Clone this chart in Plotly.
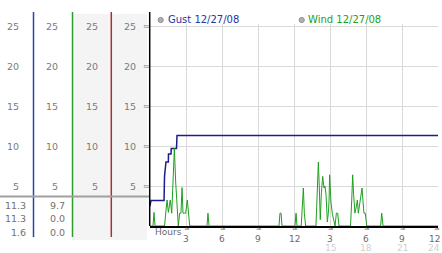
import plotly.graph_objects as go

W, H = 442, 253

# ---------------- data ----------------
gust_hours = [0.0, 0.08, 1.17, 1.21, 1.33, 1.53, 1.54, 1.75, 1.77, 2.21, 2.25, 24.0]
gust_mph = [2.5, 3.2, 3.2, 6.2, 8.0, 8.0, 9.0, 9.0, 9.7, 9.7, 11.3, 11.3]

wind_hours = [0, 0.25, 0.33, 0.42, 1.21, 1.31, 1.42, 1.53, 1.69, 1.81,
              1.94, 2.03, 2.14, 2.25, 2.36, 2.47, 2.58, 2.67, 2.75, 2.86,
              2.97, 3.11, 3.22, 3.31, 4.75, 4.83, 4.92, 10.75, 10.83, 10.92,
              11.0, 12.08, 12.17, 12.25, 12.6, 12.69, 12.78, 12.86, 12.97, 13.83,
              13.94, 14.03, 14.11, 14.19, 14.28, 14.39, 14.5, 14.58, 14.67, 14.78,
              14.86, 14.92, 14.97, 15.08, 15.19, 15.31, 15.42, 15.53, 15.64, 15.75,
              16.71, 16.81, 16.89, 16.97, 17.08, 17.19, 17.28, 17.36, 17.44, 17.56,
              17.67, 17.75, 17.83, 17.94, 18.06, 19.22, 19.31, 19.42, 24]
wind_mph = [0, 0, 1.7, 0, 0, 1.7, 3.25, 1.7, 3.25, 1.6,
            5.6, 9.7, 5.5, 2.4, 0, 1.6, 1.6, 4.8, 1.6, 1.6,
            1.6, 3.25, 1.6, 0, 0, 1.6, 0, 0, 1.6, 1.6,
            0, 0, 1.6, 0, 0, 3.1, 4.75, 1.6, 0, 0,
            4.9, 8.0, 4.75, 0.8, 4.1, 6.2, 4.75, 5.0, 3.9, 0.5,
            1.6, 3.1, 6.4, 3.0, 1.6, 0.5, 0, 1.6, 1.6, 0,
            0, 3.25, 6.4, 3.9, 1.6, 2.4, 3.25, 1.6, 2.4, 3.1,
            4.75, 3.1, 1.6, 1.6, 0, 0, 1.6, 0, 0]

y_ticks = [5, 10, 15, 20, 25]
x_ticks = [3, 6, 9, 12, 15, 18, 21, 24]
x_labels_top = ["3", "6", "9", "12", "3", "6", "9", "12"]
x_labels_bottom = ["", "", "", "", "15", "18", "21", "24"]

legend_names = ["Gust 12/27/08", "Wind 12/27/08"]
gust_stats = ["11.3", "11.3", "1.6"]
wind_stats = ["9.7", "0.0", "0.0"]

GUST_COLOR = "#1c1c8e"
WIND_COLOR = "#1f9f1f"
FONT = "DejaVu Sans"
MARK = "\u2248"


def px(x):
    return x / W


def py(y):
    return (H - y) / H


X0, X1 = 150, 438  # plot left/right in pixels


def hx(t):
    """paper x of an hour value (same mapping as the x axis)"""
    return px(X0 + (X1 - X0) * t / 24.0)


fig = go.Figure()
fig.add_trace(go.Scatter(x=gust_hours, y=gust_mph, mode="lines",
                         line=dict(color=GUST_COLOR, width=1.5), showlegend=False))
fig.add_trace(go.Scatter(x=wind_hours, y=wind_mph, mode="lines",
                         line=dict(color=WIND_COLOR, width=1), showlegend=False))

shapes = []
shapes.append(dict(type="rect", xref="paper", yref="paper", x0=px(72.5), x1=px(147),
                   y0=py(240), y1=py(14), fillcolor="#f4f4f4", line=dict(width=0), layer="below"))
for xx, col in [(33.5, "#2a44a8"), (72.5, "#2c9c2c"), (111.3, "#a83030")]:
    shapes.append(dict(type="line", xref="paper", yref="paper", x0=px(xx), x1=px(xx),
                       y0=py(237), y1=py(12), line=dict(color=col, width=1.5)))
shapes.append(dict(type="line", xref="paper", yref="paper", x0=0, x1=px(150),
                   y0=py(196.5), y1=py(196.5), line=dict(color="#a0a0a0", width=2)))
shapes.append(dict(type="line", xref="paper", yref="paper", x0=px(149.7), x1=px(149.7),
                   y0=py(226), y1=py(12), line=dict(color="black", width=1.5)))
for cx in [160.7, 301.7]:
    shapes.append(dict(type="circle", xref="paper", yref="paper",
                       x0=px(cx - 2.6), x1=px(cx + 2.6), y0=py(22.6), y1=py(17.4),
                       fillcolor="#b0b0b0", line=dict(color="#909090", width=1)))

ann = []
for rx in [20.5, 60.3, 99.5, 137.5]:
    for v in y_ticks:
        ann.append(dict(x=px(rx), y=v, xref="paper", yref="y", text=str(v),
                        xanchor="right", yanchor="middle", showarrow=False,
                        font=dict(family=FONT, size=9.5, color="#7a7a7a")))
for v in y_ticks:
    ann.append(dict(x=px(146.2), y=v, xref="paper", yref="y", text=MARK,
                    xanchor="center", yanchor="middle", showarrow=False, borderpad=0,
                    font=dict(family=FONT, size=8, color="#7a7a7a")))
rows_y = [205, 218.3, 232.3]
for ry, g, w in zip(rows_y, gust_stats, wind_stats):
    ann.append(dict(x=px(27.5), y=py(ry), xref="paper", yref="paper", text=g,
                    xanchor="right", yanchor="middle", showarrow=False,
                    font=dict(family=FONT, size=9.5, color="#707070")))
    ann.append(dict(x=px(66.5), y=py(ry), xref="paper", yref="paper", text=w,
                    xanchor="right", yanchor="middle", showarrow=False,
                    font=dict(family=FONT, size=9.5, color="#707070")))
for t, top, bot in zip(x_ticks, x_labels_top, x_labels_bottom):
    last = t == x_ticks[-1]
    xa = "right" if last else "center"
    xx = px(441) if last else hx(t)
    ann.append(dict(x=px(437) if last else hx(t) + px(1), y=py(228.8), xref="paper", yref="paper",
                    text=MARK, xanchor="center", yanchor="middle", showarrow=False, borderpad=0,
                    font=dict(family=FONT, size=7, color="#7a7a7a")))
    ann.append(dict(x=xx, y=py(238.5), xref="paper", yref="paper", text=top,
                    xanchor=xa, yanchor="middle", showarrow=False, borderpad=0,
                    font=dict(family=FONT, size=9, color="#6a6a6a")))
    if bot:
        ann.append(dict(x=xx, y=py(248), xref="paper", yref="paper", text=bot,
                        xanchor=xa, yanchor="middle", showarrow=False, borderpad=0,
                        font=dict(family=FONT, size=9, color="#cfcfcf")))
ann.append(dict(x=px(153), y=py(231.7), xref="paper", yref="paper", text="Hours",
                xanchor="left", yanchor="middle", showarrow=False,
                font=dict(family=FONT, size=9, color="#6a6a6a")))
ann.append(dict(x=px(165.5), y=py(20), xref="paper", yref="paper", text=legend_names[0],
                xanchor="left", yanchor="middle", showarrow=False,
                font=dict(family=FONT, size=10, color="#2536a6")))
ann.append(dict(x=px(306), y=py(20), xref="paper", yref="paper", text=legend_names[1],
                xanchor="left", yanchor="middle", showarrow=False,
                font=dict(family=FONT, size=10, color="#22a022")))

fig.update_layout(
    width=W, height=H,
    margin=dict(l=0, r=0, t=0, b=0),
    paper_bgcolor="white", plot_bgcolor="white",
    shapes=shapes, annotations=ann,
    xaxis=dict(domain=[px(X0), px(X1)], range=[0, 24], tickvals=x_ticks,
               showticklabels=False, ticks="", showgrid=True, gridcolor="#dadada",
               gridwidth=1, zeroline=False, showline=True, linecolor="black",
               linewidth=1.5, fixedrange=True),
    yaxis=dict(domain=[py(226), py(23.6)], range=[0, 25.3], tickvals=y_ticks,
               showticklabels=False, ticks="", showgrid=True, gridcolor="#dadada",
               gridwidth=1, zeroline=False, showline=False, fixedrange=True),
    showlegend=False,
)

fig.write_html("out.html", include_plotlyjs=True)
